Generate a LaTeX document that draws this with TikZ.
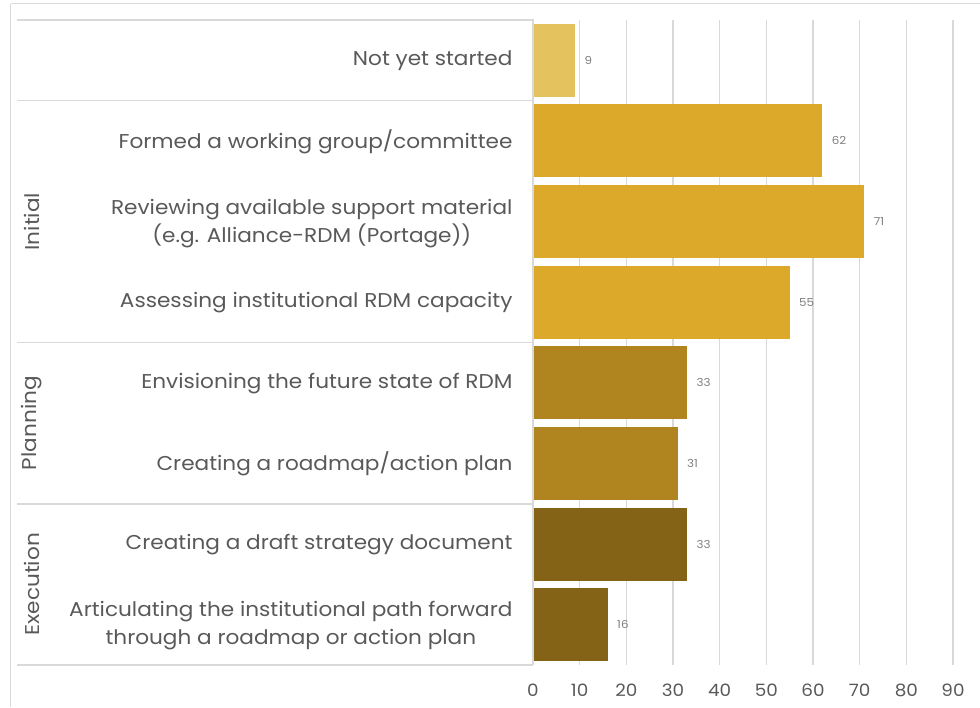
\documentclass[tikz,border=0pt]{standalone}
\usepackage{fontspec}
\setmainfont[FakeStretch=1.08]{Poppins}
\definecolor{notyet}{HTML}{E4C35F}
\definecolor{initial}{HTML}{DDA92B}
\definecolor{planning}{HTML}{B08520}
\definecolor{execution}{HTML}{856316}
\definecolor{gridgray}{HTML}{D9D9D9}
\definecolor{labelgray}{HTML}{595959}
\definecolor{valgray}{HTML}{7F7F7F}
\begin{document}
\begin{tikzpicture}[x=1pt,y=-1pt,
  rule/.style={draw=gridgray,line width=1.2pt},
  item/.style={anchor=east,text=labelgray,align=center,font=\fontsize{20}{28}\selectfont},
  phase/.style={rotate=90,text=labelgray,font=\fontsize{20}{24}\selectfont},
  val/.style={anchor=west,text=valgray,font=\fontsize{11}{13}\selectfont},
  tick/.style={text=labelgray,font=\fontsize{17}{20}\selectfont}]
\useasboundingbox (0,0) rectangle (980,707);
% outer frame
\draw[rule] (10.5,3.5) -- (980,3.5);
\draw[rule] (10.5,3.5) -- (10.5,707);
% value grid
\foreach \v in {10,20,...,90}
  \draw[rule] ({533+4.6667*\v},20) -- ({533+4.6667*\v},665);
\foreach \v in {0,10,...,90}
  \node[tick] (tick\v) at ({533+4.6667*\v},690) {\v};
% label table
\draw[rule] (17,20) -- (533,20) -- (533,665);
\draw[rule] (17,100.6) -- (533,100.6);
\draw[rule] (17,342.5) -- (533,342.5);
\draw[rule] (17,504) -- (533,504);
\draw[rule] (17,665) -- (533,665);
% bars
\fill[notyet] (534,23.8) rectangle (575.0,96.8);
\fill[initial] (534,104.4) rectangle (822.3,177.4);
\fill[initial] (534,185.1) rectangle (864.3,258.1);
\fill[initial] (534,265.7) rectangle (789.7,338.7);
\fill[planning] (534,346.3) rectangle (687.0,419.3);
\fill[planning] (534,426.9) rectangle (677.7,499.9);
\fill[execution] (534,507.6) rectangle (687.0,580.6);
\fill[execution] (534,588.2) rectangle (607.7,661.2);
% item labels
\node[item] (notyet) at (516,61) {Not yet started};
\node[item] (formed) at (516,141.6) {Formed a working group/committee};
\node[item] (review) at (516,224) {Reviewing available support material\\(e.g. Alliance-RDM (Portage))};
\node[item] (assess) at (516,302.9) {Assessing institutional RDM capacity};
\node[item] (envision) at (516,383.5) {Envisioning the future state of RDM};
\node[item] (roadmap) at (516,464.1) {Creating a roadmap/action plan};
\node[item] (draft) at (516,544.8) {Creating a draft strategy document};
\node[item] (path) at (516,626) {Articulating the institutional path forward\\through a roadmap or action plan};
% phase labels
\node[phase] (initphase) at (32,221.6) {Initial};
\node[phase] (planphase) at (32,423.1) {Planning};
\node[phase] (execphase) at (32,584.4) {Execution};
% values
\node[val] (vnotyet) at (581.0,60.3) {9};
\node[val] (vformed) at (828.3,140.9) {62};
\node[val] (vreview) at (870.3,221.6) {71};
\node[val] (vassess) at (795.7,302.2) {55};
\node[val] (venvision) at (693.0,382.8) {33};
\node[val] (vroadmap) at (683.7,463.4) {31};
\node[val] (vdraft) at (693.0,544.1) {33};
\node[val] (vpath) at (613.7,624.7) {16};
\end{tikzpicture}
\end{document}
